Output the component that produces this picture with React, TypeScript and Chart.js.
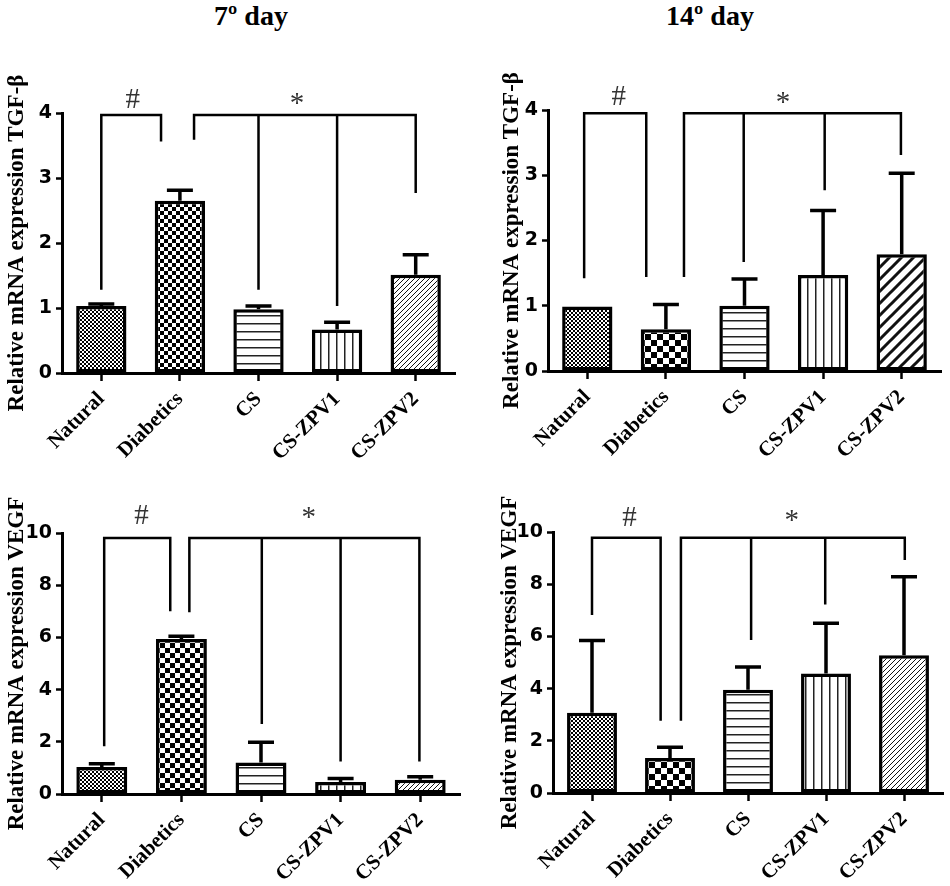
import React, { useEffect, useRef } from "react";
import { Chart, registerables } from "chart.js";

Chart.register(...registerables);

// ---------- data ----------
const categories = ["Natural", "Diabetics", "CS", "CS-ZPV1", "CS-ZPV2"];

const tgf7Values = [1.03, 2.65, 0.98, 0.67, 1.51];
const tgf7Errors = [0.03, 0.16, 0.05, 0.11, 0.31];
const tgf14Values = [0.99, 0.64, 1.0, 1.47, 1.79];
const tgf14Errors = [0.0, 0.38, 0.41, 0.99, 1.24];
const vegf7Values = [1.03, 5.94, 1.21, 0.46, 0.55];
const vegf7Errors = [0.13, 0.1, 0.77, 0.13, 0.11];
const vegf14Values = [3.07, 1.34, 3.96, 4.58, 5.28];
const vegf14Errors = [2.77, 0.41, 0.87, 1.92, 3.01];

const tgfAxisMax = 4;
const tgfTickStep = 1;
const vegfAxisMax = 10;
const vegfTickStep = 2;

const panelTitles = ["7º day", "14º day"];
const tgfLabel = "Relative mRNA expression TGF-β";
const vegfLabel = "Relative mRNA expression VEGF";

// significance brackets: legs as [category position, lower end value]
const tgf7BracketTop = 3.97;
const tgf7HashLegs = [[0, 1.28], [0.76, 3.56]];
const tgf7StarLegs = [[1.18, 3.59], [2, 1.28], [3, 1.03], [4, 2.77]];
const tgf7Marks = [["#", 0.4, 4.2], ["*", 2.49, 4.22]];

const tgf14BracketTop = 3.95;
const tgf14HashLegs = [[-0.04, 1.42], [0.75, 1.44]];
const tgf14StarLegs = [[1.23, 1.44], [1.99, 1.67], [3.02, 2.77], [3.99, 3.31]];
const tgf14Marks = [["#", 0.4, 4.2], ["*", 2.49, 4.2]];

const vegf7BracketTop = 9.81;
const vegf7HashLegs = [[0.03, 1.83], [0.86, 7.0]];
const vegf7StarLegs = [[1.1, 6.96], [2.01, 2.68], [3.0, 1.25], [3.99, 1.25]];
const vegf7Marks = [["#", 0.5, 10.64], ["*", 2.6, 10.8]];

const vegf14BracketTop = 9.78;
const vegf14HashLegs = [[0, 6.82], [0.88, 2.77]];
const vegf14StarLegs = [[1.14, 2.77], [2.04, 5.86], [2.99, 7.22], [4.01, 8.93]];
const vegf14Marks = [["#", 0.48, 10.51], ["*", 2.56, 10.65]];

// ---------- styling helpers ----------
const SERIF = "'Liberation Serif', 'Times New Roman', serif";
const SANS = "'DejaVu Sans', 'Liberation Sans', Arial, sans-serif";

type PatternSpec =
  | { kind: "check"; cell: number }
  | { kind: "hlines"; gap: number; lw: number }
  | { kind: "vlines"; gap: number; lw: number }
  | { kind: "diag"; gap: number; lw: number };

function makePattern(spec: PatternSpec): CanvasPattern | string {
  const c = document.createElement("canvas");
  const g = c.getContext("2d");
  if (!g) return "#fff";
  if (spec.kind === "check") {
    const s = spec.cell;
    c.width = s * 2;
    c.height = s * 2;
    g.fillStyle = "#fff";
    g.fillRect(0, 0, 2 * s, 2 * s);
    g.fillStyle = "#000";
    g.fillRect(0, 0, s, s);
    g.fillRect(s, s, s, s);
  } else if (spec.kind === "hlines") {
    c.width = 8;
    c.height = spec.gap;
    g.fillStyle = "#fff";
    g.fillRect(0, 0, 8, spec.gap);
    g.fillStyle = "#222";
    g.fillRect(0, 0, 8, spec.lw);
  } else if (spec.kind === "vlines") {
    c.width = spec.gap;
    c.height = 8;
    g.fillStyle = "#fff";
    g.fillRect(0, 0, spec.gap, 8);
    g.fillStyle = "#222";
    g.fillRect(0, 0, spec.lw, 8);
  } else {
    const s = spec.gap;
    c.width = s;
    c.height = s;
    g.fillStyle = "#fff";
    g.fillRect(0, 0, s, s);
    g.strokeStyle = "#111";
    g.lineWidth = spec.lw;
    g.beginPath();
    g.moveTo(-s, 2 * s);
    g.lineTo(2 * s, -s);
    g.moveTo(-s, s);
    g.lineTo(s, -s);
    g.moveTo(0, 2 * s);
    g.lineTo(2 * s, 0);
    g.stroke();
  }
  const p = g.createPattern(c, "repeat");
  return p || "#fff";
}

type PanelCfg = {
  values: number[];
  errors: number[];
  max: number;
  step: number;
  label: string;
  bracketTop: number;
  hashLegs: number[][];
  starLegs: number[][];
  marks: (string | number)[][];
  patterns: PatternSpec[];
  area: { L: number; R: number; T: number; B: number };
  yW: number;
};

const PAD_TOP = 70;
const PAD_RIGHT = 8;
const X_H = 100;

function annotationPlugin(cfg: PanelCfg) {
  return {
    id: "annot",
    afterDatasetsDraw(chart: any) {
      const { ctx } = chart;
      const x = chart.scales.x;
      const y = chart.scales.y;
      const meta = chart.getDatasetMeta(0);
      ctx.save();
      ctx.strokeStyle = "#000";
      ctx.lineCap = "butt";
      // error bars
      ctx.lineWidth = 3.5;
      meta.data.forEach((bar: any, i: number) => {
        const err = cfg.errors[i];
        if (!err) return;
        const top = y.getPixelForValue(cfg.values[i] + err);
        ctx.beginPath();
        ctx.moveTo(bar.x, bar.y);
        ctx.lineTo(bar.x, top);
        ctx.moveTo(bar.x - 13, top);
        ctx.lineTo(bar.x + 13, top);
        ctx.stroke();
      });
      // brackets
      ctx.lineWidth = 2.5;
      ctx.lineJoin = "miter";
      const topPx = y.getPixelForValue(cfg.bracketTop);
      const drawGroup = (legs: number[][]) => {
        const xs = legs.map((l) => x.getPixelForValue(l[0]));
        ctx.beginPath();
        ctx.moveTo(xs[0], y.getPixelForValue(legs[0][1]));
        ctx.lineTo(xs[0], topPx);
        ctx.lineTo(xs[xs.length - 1], topPx);
        ctx.lineTo(xs[xs.length - 1], y.getPixelForValue(legs[legs.length - 1][1]));
        for (let k = 1; k < legs.length - 1; k++) {
          ctx.moveTo(xs[k], topPx);
          ctx.lineTo(xs[k], y.getPixelForValue(legs[k][1]));
        }
        ctx.stroke();
      };
      drawGroup(cfg.hashLegs);
      drawGroup(cfg.starLegs);
      // symbols
      ctx.fillStyle = "#333";
      ctx.font = `29px ${SERIF}`;
      ctx.textAlign = "center";
      ctx.textBaseline = "middle";
      cfg.marks.forEach((m) => {
        const sym = m[0] as string;
        const px = x.getPixelForValue(m[1] as number);
        const py = y.getPixelForValue(m[2] as number);
        ctx.fillText(sym, px, sym === "*" ? py + 6 : py);
      });
      ctx.restore();
    },
  };
}

function Panel({ cfg }: { cfg: PanelCfg }) {
  const ref = useRef<HTMLCanvasElement>(null);
  const { L, R, T, B } = cfg.area;
  const x0 = L - cfg.yW;
  const y0 = T - PAD_TOP;
  const w = R + PAD_RIGHT - x0;
  const h = B + X_H - y0;

  useEffect(() => {
    if (!ref.current) return;
    const fills = cfg.patterns.map((p) => makePattern(p));
    const chart = new Chart(ref.current, {
      type: "bar",
      data: {
        labels: categories,
        datasets: [
          {
            data: cfg.values,
            backgroundColor: fills as any,
            borderColor: "#000",
            borderWidth: 3.5,
            borderSkipped: false,
            categoryPercentage: 0.64,
            barPercentage: 1,
          },
        ],
      },
      options: {
        responsive: false,
        animation: false,
        devicePixelRatio: 1,
        layout: { padding: { top: PAD_TOP, right: PAD_RIGHT, left: 0, bottom: 0 } },
        plugins: {
          legend: { display: false },
          tooltip: { enabled: false },
          title: { display: false },
        },
        scales: {
          x: {
            offset: true,
            afterFit: (s: any) => {
              s.height = X_H;
            },
            grid: {
              offset: false,
              drawOnChartArea: false,
              drawTicks: true,
              tickLength: 8,
              tickWidth: 2.5,
              tickColor: "#000",
            },
            border: { display: true, color: "#000", width: 3 },
            ticks: {
              autoSkip: false,
              minRotation: 45,
              maxRotation: 45,
              padding: 6,
              color: "#000",
              font: { family: SERIF, size: 21, weight: "bold" },
            },
          },
          y: {
            min: 0,
            max: cfg.max,
            afterFit: (s: any) => {
              s.width = cfg.yW;
            },
            grid: {
              drawOnChartArea: false,
              drawTicks: true,
              tickLength: 6,
              tickWidth: 2.5,
              tickColor: "#000",
            },
            border: { display: true, color: "#000", width: 3 },
            ticks: {
              stepSize: cfg.step,
              padding: 4,
              color: "#000",
              font: { family: SANS, size: 19, weight: "bold" },
            },
            title: {
              display: true,
              text: cfg.label,
              color: "#000",
              padding: { top: 3, bottom: 3 },
              font: { family: SERIF, size: 23, weight: "bold" },
            },
          },
        },
      },
      plugins: [annotationPlugin(cfg)],
    } as any);
    return () => chart.destroy();
  }, []);

  return (
    <canvas
      ref={ref}
      width={w}
      height={h}
      style={{ position: "absolute", left: x0, top: y0, width: w, height: h }}
    />
  );
}

const panels: PanelCfg[] = [
  {
    values: tgf7Values,
    errors: tgf7Errors,
    max: tgfAxisMax,
    step: tgfTickStep,
    label: tgfLabel,
    bracketTop: tgf7BracketTop,
    hashLegs: tgf7HashLegs,
    starLegs: tgf7StarLegs,
    marks: tgf7Marks,
    patterns: [
      { kind: "check", cell: 2 },
      { kind: "check", cell: 4 },
      { kind: "hlines", gap: 8, lw: 1.5 },
      { kind: "vlines", gap: 8, lw: 1.5 },
      { kind: "diag", gap: 5, lw: 1 },
    ],
    area: { L: 62, R: 455, T: 113, B: 373 },
    yW: 62,
  },
  {
    values: tgf14Values,
    errors: tgf14Errors,
    max: tgfAxisMax,
    step: tgfTickStep,
    label: tgfLabel,
    bracketTop: tgf14BracketTop,
    hashLegs: tgf14HashLegs,
    starLegs: tgf14StarLegs,
    marks: tgf14Marks,
    patterns: [
      { kind: "check", cell: 2 },
      { kind: "check", cell: 6 },
      { kind: "hlines", gap: 8, lw: 1.5 },
      { kind: "vlines", gap: 8, lw: 1.5 },
      { kind: "diag", gap: 12, lw: 3 },
    ],
    area: { L: 548, R: 941, T: 110, B: 371 },
    yW: 53,
  },
  {
    values: vegf7Values,
    errors: vegf7Errors,
    max: vegfAxisMax,
    step: vegfTickStep,
    label: vegfLabel,
    bracketTop: vegf7BracketTop,
    hashLegs: vegf7HashLegs,
    starLegs: vegf7StarLegs,
    marks: vegf7Marks,
    patterns: [
      { kind: "check", cell: 2 },
      { kind: "check", cell: 5 },
      { kind: "hlines", gap: 8, lw: 1.5 },
      { kind: "vlines", gap: 8, lw: 1.5 },
      { kind: "diag", gap: 5, lw: 1 },
    ],
    area: { L: 62, R: 460, T: 533, B: 794 },
    yW: 62,
  },
  {
    values: vegf14Values,
    errors: vegf14Errors,
    max: vegfAxisMax,
    step: vegfTickStep,
    label: vegfLabel,
    bracketTop: vegf14BracketTop,
    hashLegs: vegf14HashLegs,
    starLegs: vegf14StarLegs,
    marks: vegf14Marks,
    patterns: [
      { kind: "check", cell: 2 },
      { kind: "check", cell: 6 },
      { kind: "hlines", gap: 8, lw: 1.5 },
      { kind: "vlines", gap: 8, lw: 1.5 },
      { kind: "diag", gap: 5, lw: 1 },
    ],
    area: { L: 553, R: 943, T: 532, B: 793 },
    yW: 60,
  },
];

const titleCenters = [251, 710];

export default function App() {
  return (
    <div
      style={{
        position: "absolute",
        left: 0,
        top: 0,
        width: 950,
        height: 886,
        background: "#fff",
        overflow: "hidden",
      }}
    >
      {panelTitles.map((t, i) => (
        <div
          key={t}
          style={{
            position: "absolute",
            left: titleCenters[i] - 100,
            top: 0,
            width: 200,
            textAlign: "center",
            fontFamily: SERIF,
            fontWeight: "bold",
            fontSize: 28,
            lineHeight: "32px",
            color: "#000",
          }}
        >
          {t}
        </div>
      ))}
      {panels.map((p, i) => (
        <Panel key={i} cfg={p} />
      ))}
    </div>
  );
}
